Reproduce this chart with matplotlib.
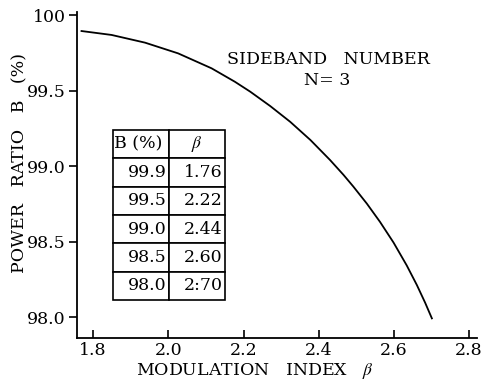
"""
Power ratio vs modulation index for sideband number N = 3.
"""

import matplotlib
matplotlib.use("Agg")
import matplotlib.pyplot as plt

# curve
beta = [1.769, 1.849, 1.938, 2.026, 2.115, 2.177, 2.218, 2.271, 2.324, 2.378,
        2.430, 2.466, 2.492, 2.528, 2.563, 2.599, 2.634, 2.661, 2.683, 2.701]
ratio = [99.894, 99.868, 99.817, 99.746, 99.647, 99.558, 99.492, 99.397, 99.293, 99.172,
         99.040, 98.941, 98.864, 98.751, 98.630, 98.493, 98.342, 98.212, 98.095, 97.991]

# inset table
table_b = ["99.9", "99.5", "99.0", "98.5", "98.0"]
table_beta = ["1.76", "2.22", "2.44", "2.60", "2:70"]

xticks = [1.8, 2.0, 2.2, 2.4, 2.6, 2.8]
yticks = [98.0, 98.5, 99.0, 99.5, 100.0]
ytick_labels = ["98.0", "98.5", "99.0", "99.5", "100"]

FS = 12.5
plt.rcParams["font.family"] = "DejaVu Serif"
plt.rcParams["mathtext.fontset"] = "stix"

fig = plt.figure(figsize=(4.87, 3.8), dpi=100)
ax = fig.add_axes([77 / 487, 42 / 380, 400 / 487, 326 / 380])

ax.plot(beta, ratio, color="black", lw=1.3)

ax.set_xlim(1.757, 2.821)
ax.set_ylim(97.861, 100.02)
ax.set_xticks(xticks)
ax.set_xticklabels([f"{v:.1f}" for v in xticks])
ax.set_yticks(yticks)
ax.set_yticklabels(ytick_labels)
ax.spines["top"].set_visible(False)
ax.spines["right"].set_visible(False)
for s in ("left", "bottom"):
    ax.spines[s].set_linewidth(1.3)
ax.tick_params(axis="x", direction="in", length=6, width=1.2, labelsize=FS, pad=3)
ax.tick_params(axis="y", direction="out", length=6, width=1.2, labelsize=FS, pad=2)

ax.set_xlabel(r"MODULATION   INDEX   $\beta$", fontsize=FS)
ax.xaxis.set_label_coords(0.445, -0.0706)
ax.set_ylabel("POWER   RATIO   B   (%)", fontsize=FS)
ax.yaxis.set_label_coords(-0.1225, 0.537)

ax.text(0.6275, 0.853, "SIDEBAND   NUMBER", transform=ax.transAxes,
        ha="center", va="center", fontsize=FS)
ax.text(0.625, 0.791, "N= 3", transform=ax.transAxes,
        ha="center", va="center", fontsize=FS)

cells = [["B (%)", r"$\beta$"]] + [[b, x] for b, x in zip(table_b, table_beta)]
tbl = ax.table(cellText=cells, bbox=[0.09, 0.117, 0.28, 0.521], cellLoc="right")
tbl.auto_set_font_size(False)
tbl.set_fontsize(FS)
for (r, c), cell in tbl.get_celld().items():
    cell.set_linewidth(1.2)
    cell.set_facecolor("white")
    cell.PAD = 0.04
    if r == 0:
        cell.set_text_props(ha="center" if c == 1 else "left")
        if c == 0:
            cell.PAD = 0.01

fig.savefig("out.png", dpi=100)
